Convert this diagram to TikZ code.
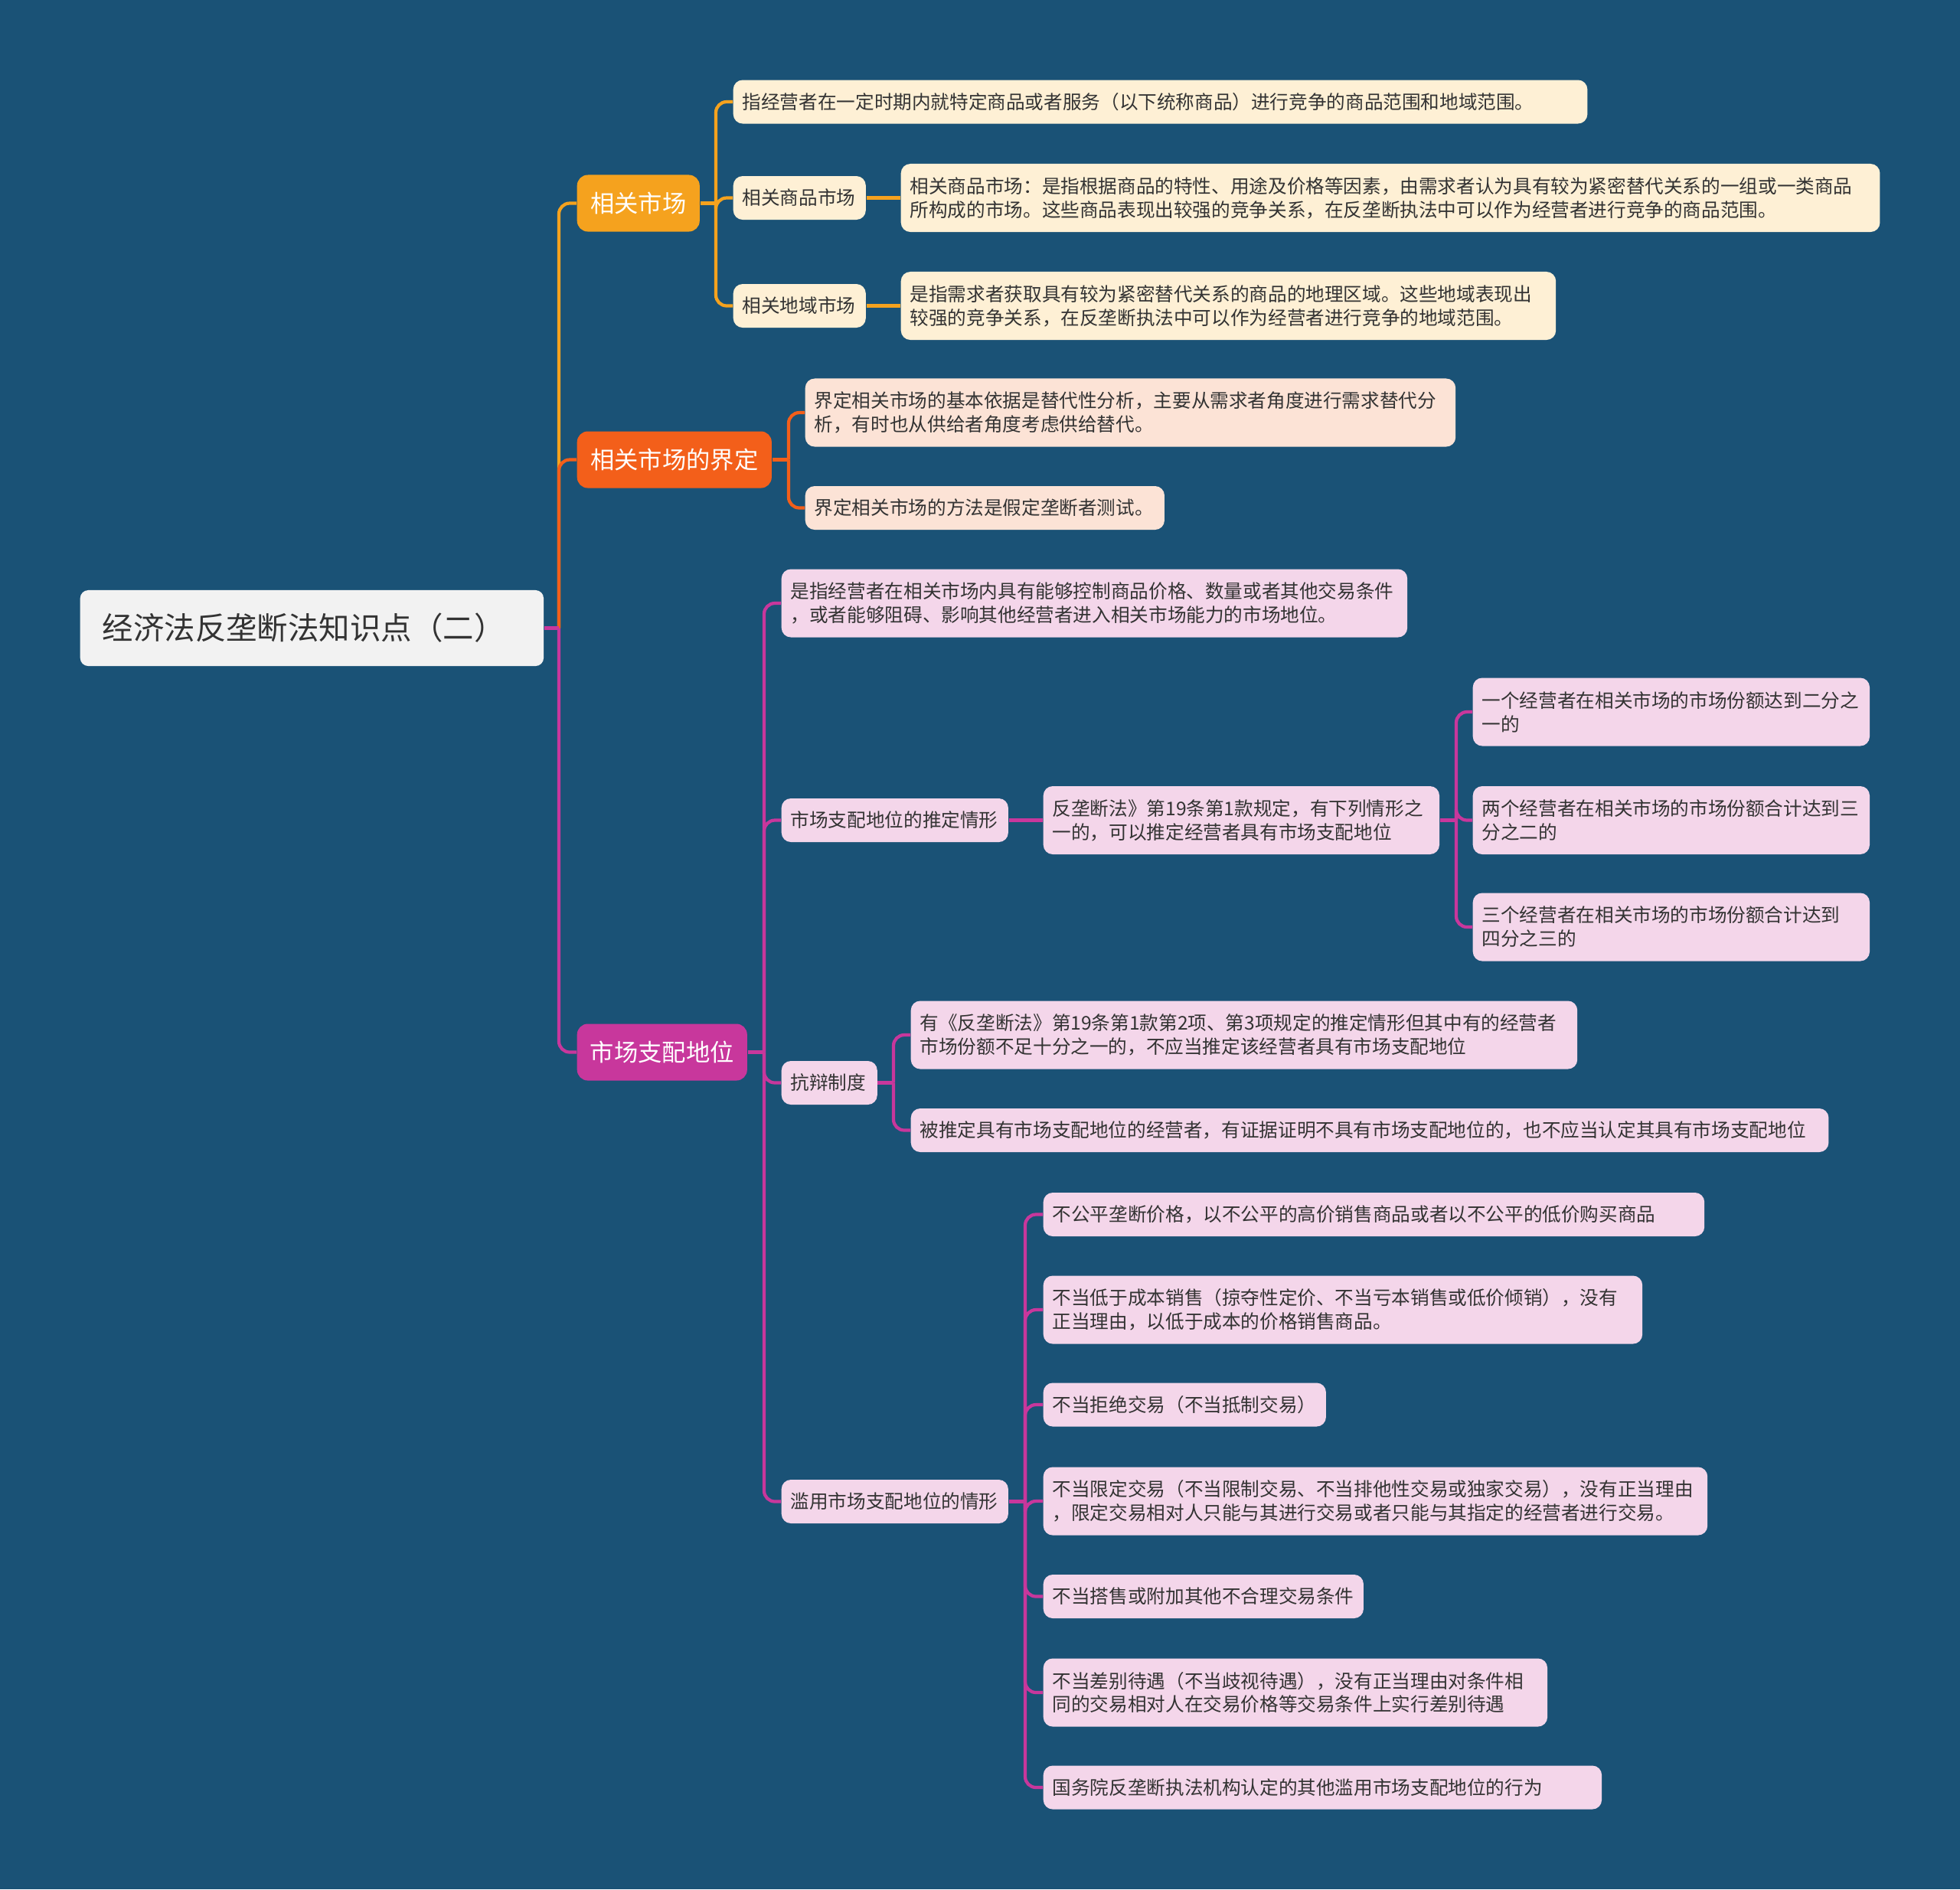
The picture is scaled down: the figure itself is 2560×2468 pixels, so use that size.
\documentclass[tikz,border=0pt]{standalone}
\usepackage{fontspec}
\setmainfont{Noto Sans CJK SC}
\usetikzlibrary{positioning, calc}
\definecolor{bgblue}{HTML}{1A5276}
\definecolor{rootgray}{HTML}{F2F2F2}
\definecolor{textdark}{HTML}{333333}
\definecolor{amber}{HTML}{F5A21E}
\definecolor{flame}{HTML}{F35F1A}
\definecolor{plum}{HTML}{C8379C}
\definecolor{cream}{HTML}{FEF0D5}
\definecolor{peach}{HTML}{FCE3D6}
\definecolor{pinkish}{HTML}{F4D6EA}
\tikzset{
  rootbox/.style={rounded corners=3pt, fill=rootgray, text=textdark, font=\fontsize{11.5}{13}\selectfont, minimum height=0.99cm, text width=5.47cm, inner xsep=0.29cm, anchor=west},
  topic/.style={rounded corners=4pt, fill=#1, text=white, font=\fontsize{8.9}{10}\selectfont, minimum height=0.74cm, anchor=west, inner xsep=0.1cm},
  leaf/.style={rounded corners=3.5pt, fill=#1, text=textdark, font=\fontsize{7}{8.8}\selectfont, align=left, anchor=west, inner xsep=0.12cm, minimum height=0.57cm},
  two/.style={minimum height=0.89cm},
  conn/.style={draw=#1, line width=1.2pt, rounded corners=4pt},
}
\begin{document}
\begin{tikzpicture}[x=0.01cm, y=-0.01cm]
  \fill[bgblue] (0,0) rectangle (2560,2468);
  \useasboundingbox (0,0) rectangle (2560,2468);

  \node[rootbox] (root) at (104,820.5) {经济法反垄断法知识点（二）};
  \node[topic=amber, minimum width=1.60cm] (m1) at (753,265.5) {相关市场};
  \node[topic=flame, minimum width=2.54cm] (m2) at (753,600.5) {相关市场的界定};
  \node[topic=plum, minimum width=2.22cm] (m3) at (753,1374.5) {市场支配地位};

  % relevant market
  \node[leaf=cream, text width=10.91cm] (a1) at (957,133) {指经营者在一定时期内就特定商品或者服务（以下统称商品）进行竞争的商品范围和地域范围。};
  \node[leaf=cream, text width=1.49cm] (a2) at (957,258.5) {相关商品市场};
  \node[leaf=cream, two, text width=12.54cm] (a2c) at (1176,258.5) {相关商品市场：是指根据商品的特性、用途及价格等因素，由需求者认为具有较为紧密替代关系的一组或一类商品\\所构成的市场。这些商品表现出较强的竞争关系，在反垄断执法中可以作为经营者进行竞争的商品范围。};
  \node[leaf=cream, text width=1.49cm] (a3) at (957,399.5) {相关地域市场};
  \node[leaf=cream, two, text width=8.31cm] (a3c) at (1176,399.5) {是指需求者获取具有较为紧密替代关系的商品的地理区域。这些地域表现出\\较强的竞争关系，在反垄断执法中可以作为经营者进行竞争的地域范围。};

  % definition of the market
  \node[leaf=peach, two, text width=8.25cm] (b1) at (1051,539) {界定相关市场的基本依据是替代性分析，主要从需求者角度进行需求替代分\\析，有时也从供给者角度考虑供给替代。};
  \node[leaf=peach, text width=4.45cm] (b2) at (1051,663.5) {界定相关市场的方法是假定垄断者测试。};

  % dominant position
  \node[leaf=pinkish, two, text width=7.93cm] (c1) at (1020,788) {是指经营者在相关市场内具有能够控制商品价格、数量或者其他交易条件\\，或者能够阻碍、影响其他经营者进入相关市场能力的市场地位。};
  \node[leaf=pinkish, text width=2.72cm] (c2) at (1020,1071.5) {市场支配地位的推定情形};
  \node[leaf=pinkish, two, text width=4.93cm] (c2a) at (1362,1071.5) {反垄断法》第19条第1款规定，有下列情形之\\一的，可以推定经营者具有市场支配地位};
  \node[leaf=pinkish, two, text width=4.94cm] (c2a1) at (1923,930) {一个经营者在相关市场的市场份额达到二分之\\一的};
  \node[leaf=pinkish, two, text width=4.94cm] (c2a2) at (1923,1071.5) {两个经营者在相关市场的市场份额合计达到三\\分之二的};
  \node[leaf=pinkish, two, text width=4.94cm] (c2a3) at (1923,1211) {三个经营者在相关市场的市场份额合计达到\\四分之三的};
  \node[leaf=pinkish, text width=1.01cm] (c3) at (1020,1414.5) {抗辩制度};
  \node[leaf=pinkish, two, text width=8.46cm] (c3a) at (1189,1352) {有《反垄断法》第19条第1款第2项、第3项规定的推定情形但其中有的经营者\\市场份额不足十分之一的，不应当推定该经营者具有市场支配地位};
  \node[leaf=pinkish, text width=11.74cm] (c3b) at (1189,1476.5) {被推定具有市场支配地位的经营者，有证据证明不具有市场支配地位的，也不应当认定其具有市场支配地位};
  \node[leaf=pinkish, text width=2.72cm] (c4) at (1020,1961.5) {滥用市场支配地位的情形};
  \node[leaf=pinkish, text width=8.39cm] (c4a) at (1362,1586.5) {不公平垄断价格，以不公平的高价销售商品或者以不公平的低价购买商品};
  \node[leaf=pinkish, two, text width=7.58cm] (c4b) at (1362,1711) {不当低于成本销售（掠夺性定价、不当亏本销售或低价倾销），没有\\正当理由，以低于成本的价格销售商品。};
  \node[leaf=pinkish, text width=3.45cm] (c4c) at (1362,1835) {不当拒绝交易（不当抵制交易）};
  \node[leaf=pinkish, two, text width=8.43cm] (c4d) at (1362,1961) {不当限定交易（不当限制交易、不当排他性交易或独家交易），没有正当理由\\，限定交易相对人只能与其进行交易或者只能与其指定的经营者进行交易。};
  \node[leaf=pinkish, text width=3.94cm] (c4e) at (1362,2085.5) {不当搭售或附加其他不合理交易条件};
  \node[leaf=pinkish, two, text width=6.34cm] (c4f) at (1362,2211) {不当差别待遇（不当歧视待遇），没有正当理由对条件相\\同的交易相对人在交易价格等交易条件上实行差别待遇};
  \node[leaf=pinkish, text width=7.05cm] (c4g) at (1362,2335) {国务院反垄断执法机构认定的其他滥用市场支配地位的行为};

  % junctions
  \coordinate (rj) at (730,820.5);
  \coordinate (m1j) at (935,265.5);
  \coordinate (m2j) at (1030,600.5);
  \coordinate (m3j) at (998,1374.5);
  \coordinate (c2aj) at (1902,1071.5);
  \coordinate (c3j) at (1167,1414.5);
  \coordinate (c4j) at (1339,1961.5);

  % connectors
  \draw[conn=amber] (rj) |- (m1.west);
  \draw[conn=flame] (rj) |- (m2.west);
  \draw[conn=plum] (rj) |- (m3.west);
  \draw[conn=plum] (root.east) -- (rj);

  \draw[conn=amber] (m1.east) -- (m1j);
  \foreach \k in {a1,a2,a3} \draw[conn=amber] (m1j) |- (\k.west);
  \draw[conn=amber] (a2.east) -- (a2c.west);
  \draw[conn=amber] (a3.east) -- (a3c.west);

  \draw[conn=flame] (m2.east) -- (m2j);
  \foreach \k in {b1,b2} \draw[conn=flame] (m2j) |- (\k.west);

  \draw[conn=plum] (m3.east) -- (m3j);
  \foreach \k in {c1,c2,c3,c4} \draw[conn=plum] (m3j) |- (\k.west);
  \draw[conn=plum] (c2.east) -- (c2a.west);
  \draw[conn=plum] (c2a.east) -- (c2aj);
  \foreach \k in {1,2,3} \draw[conn=plum] (c2aj) |- (c2a\k.west);
  \draw[conn=plum] (c3.east) -- (c3j);
  \foreach \k in {a,b} \draw[conn=plum] (c3j) |- (c3\k.west);
  \draw[conn=plum] (c4.east) -- (c4j);
  \foreach \k in {a,b,c,d,e,f,g} \draw[conn=plum] (c4j) |- (c4\k.west);
\end{tikzpicture}
\end{document}
